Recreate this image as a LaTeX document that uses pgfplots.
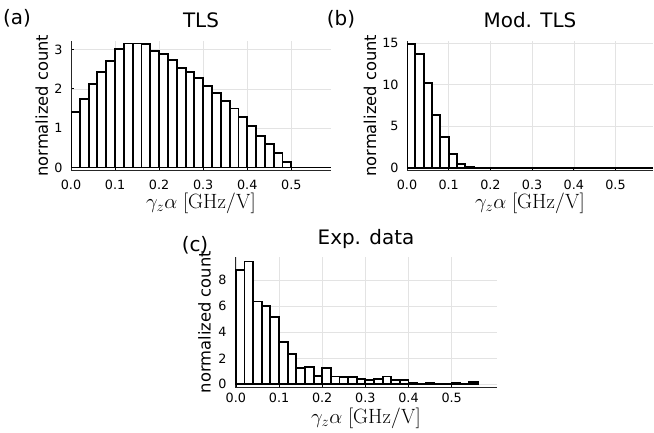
\documentclass[border=0pt]{standalone}
\usepackage[no-math]{fontspec}
\setmainfont{DejaVu Sans}
\usepackage{pgfplots}
\pgfplotsset{compat=1.18}

\pgfplotsset{
  panel/.style={
    scale only axis,
    anchor=south west,
    axis x line=bottom, axis y line=left,
    axis line style={-, black!85, line width=0.9bp},
    grid=major,
    grid style={black!11, line width=0.5bp},
    tick style={black, line width=0.7bp},
    major tick length=2.5bp,
    tick align=inside,
    xtick={0,0.1,0.2,0.3,0.4,0.5},
    xticklabel style={/pgf/number format/fixed, /pgf/number format/fixed zerofill, /pgf/number format/precision=1},
    yticklabel style={xshift=-5bp},
    /pgf/number format/assume math mode=true,
    tick label style={font=\fontsize{12.8}{14}\selectfont},
    ylabel={normalized count},
    ylabel style={font=\fontsize{16.4}{18}\selectfont, anchor=center},
    xlabel={$\gamma_z\alpha\;[\mathrm{GHz/V}]$},
    xlabel style={font=\fontsize{20}{22}\selectfont, at={(axis description cs:0.5,0)}, anchor=center},
    every axis title shift=0pt,
    title style={font=\fontsize{20}{22}\selectfont, at={(axis description cs:0.5,1)}, anchor=base},
  },
  hbar/.style={ybar interval, fill=white, draw=black, line width=1.9bp, mark=none},
  zline/.style={black, line width=1.9bp, mark=none},
}

\begin{document}
\begin{tikzpicture}[x=1bp,y=1bp]
\path[use as bounding box] (0,0) rectangle (654,432);

% (a) TLS
\begin{axis}[panel, at={(71bp,261.3bp)}, width=260bp, height=130bp,
  xmin=0, xmax=0.59, ymin=-0.08, ymax=3.22, ytick={0,1,2,3},
  xticklabel style={yshift=-5.5bp},
  title={TLS}, title style={yshift=13bp},
  ylabel style={at={(axis description cs:-0.1127,0.5)}}, xlabel style={yshift=-33bp}]
\addplot[zline] coordinates {(0.50,0) (0.59,0)};
\addplot[hbar] coordinates {
(0.00,1.40) (0.02,1.73) (0.04,2.12) (0.06,2.43) (0.08,2.70)
(0.10,3.01) (0.12,3.15) (0.14,3.15) (0.16,3.13) (0.18,2.96)
(0.20,2.88) (0.22,2.73) (0.24,2.52) (0.26,2.43) (0.28,2.28)
(0.30,2.08) (0.32,1.89) (0.34,1.70) (0.36,1.50) (0.38,1.29)
(0.40,1.06) (0.42,0.81) (0.44,0.59) (0.46,0.36) (0.48,0.13)
(0.50,0)};
\end{axis}

% (b) Mod. TLS
\begin{axis}[panel, at={(407bp,261.3bp)}, width=246bp, height=130bp,
  xmin=0, xmax=0.59, ymin=-0.36, ymax=15.3, ytick={0,5,10,15},
  xticklabel style={yshift=-5.5bp},
  title={Mod. TLS}, title style={yshift=13bp},
  ylabel style={at={(axis description cs:-0.1504,0.5)}}, xlabel style={yshift=-33bp}]
\addplot[zline] coordinates {(0.16,0) (0.59,0)};
\addplot[hbar] coordinates {
(0.00,14.9) (0.02,13.65) (0.04,10.2) (0.06,6.35) (0.08,3.7)
(0.10,1.6) (0.12,0.45) (0.14,0.08) (0.16,0)};
\end{axis}

% (c) Exp. data
\begin{axis}[panel, at={(235bp,44.3bp)}, width=262bp, height=131bp,
  xmin=-0.002, xmax=0.605, ymin=-0.26, ymax=9.82, ytick={0,2,4,6,8},
  xticklabel style={yshift=-2bp},
  title={Exp. data}, title style={yshift=12bp},
  ylabel style={at={(axis description cs:-0.1164,0.5)}}, xlabel style={yshift=-30.5bp}]
\addplot[hbar] coordinates {
(0.00,8.80) (0.02,9.45) (0.04,6.37) (0.06,6.00) (0.08,5.20)
(0.10,3.28) (0.12,2.33) (0.14,1.25) (0.16,1.36) (0.18,0.62)
(0.20,1.26) (0.22,0.60) (0.24,0.55) (0.26,0.55) (0.28,0.40)
(0.30,0.30) (0.32,0.40) (0.34,0.60) (0.36,0.35) (0.38,0.30)
(0.40,0.10) (0.42,0.05) (0.44,0.10) (0.46,0.05) (0.48,0.03)
(0.50,0.10) (0.52,0.05) (0.54,0.15) (0.56,0)};
\end{axis}

\node[font=\fontsize{20}{22}\selectfont, anchor=center] at (17,414) {(a)};
\node[font=\fontsize{20}{22}\selectfont, anchor=center] at (341,413) {(b)};
\node[font=\fontsize{20}{22}\selectfont, anchor=center] at (195,187) {(c)};
\end{tikzpicture}
\end{document}
